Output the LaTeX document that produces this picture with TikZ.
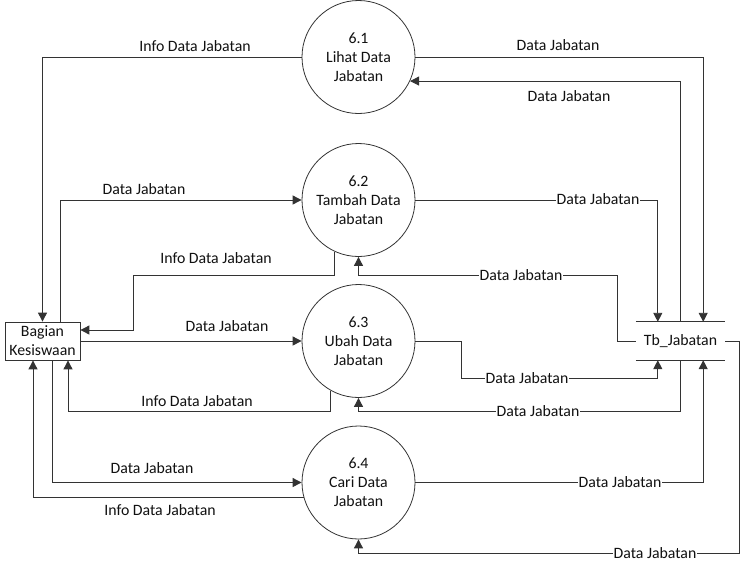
\documentclass[tikz,border=0pt]{standalone}
\usepackage{fontspec}
\setmainfont{Carlito}
\usetikzlibrary{arrows.meta}
\definecolor{ln}{HTML}{333333}
\definecolor{tx}{HTML}{111111}
\begin{document}
\begin{tikzpicture}[x=1pt,y=-1pt,
  every node/.style={font=\fontsize{15.8}{19}\selectfont, text=tx},
  proc/.style={draw=ln, line width=0.8pt, circle, minimum size=113pt, inner sep=0pt, align=center},
  ent/.style={draw=ln, line width=0.8pt, minimum width=75pt, minimum height=38pt, inner sep=0pt, align=center},
  store/.style={minimum width=89pt, minimum height=38pt, inner sep=0pt},
  flow/.style={draw=ln, line width=0.9pt, -{Triangle[length=9pt,width=9pt]}},
  lab/.style={inner sep=1pt},
  onl/.style={inner sep=1pt, fill=white}]
\useasboundingbox (0,0) rectangle (741,571);
\fill[white] (0,0) rectangle (741,571);

\node[proc] (c1) at (358.5,57) {6.1\\Lihat Data\\Jabatan};
\node[proc] (c2) at (358.5,200) {6.2\\Tambah Data\\Jabatan};
\node[proc] (c3) at (358.5,341) {6.3\\Ubah Data\\Jabatan};
\node[proc] (c4) at (358.5,482.5) {6.4\\Cari Data\\Jabatan};
\node[ent] (kes) at (42.5,341) {Bagian\\Kesiswaan};
\node[store] (tb) at (680.5,341) {Tb\_Jabatan};
\draw[ln, line width=0.9pt] (tb.north west) -- (tb.north east);
\draw[ln, line width=0.9pt] (tb.south west) -- (tb.south east);

% flows
\draw[flow] (c1.west) -| (kes.north);
\draw[flow] (c1.east) -| ([xshift=-22pt]tb.north east);
\draw[flow] (tb.north) |- (c1.-25);
\draw[flow] ([xshift=17.5pt]kes.north) |- (c2.west);
\draw[flow] (c2.-115) |- (133,275) |- ([yshift=11pt]kes.east);
\draw[flow] (c2.east) -| ([xshift=22pt]tb.north west);
\draw[flow] (tb.west) -- ++(-18,0) -- ++(0,-66) -| (c2.south);
\draw[flow] (kes.east) -- (c3.west);
\draw[flow] (c3.-119) -- ++(0,21) -| ([xshift=25.5pt]kes.south);
\draw[flow] (c3.east) -- ++(46,0) -- ++(0,37) -| ([xshift=22pt]tb.south west);
\draw[flow] (tb.south) -- ++(0,51) -| (c3.south);
\draw[flow] ([xshift=9.5pt]kes.south) |- (c4.west);
\draw[flow] (c4.-165) -| ([xshift=-9.5pt]kes.south);
\draw[flow] (c4.east) -| ([xshift=-22pt]tb.south east);
\draw[flow] (tb.east) -- ++(14,0) -- ++(0,212) -| (c4.south);

% labels
\node[lab] (l1) at (195,46) {Info Data Jabatan};
\node[lab] (l2) at (558,45) {Data Jabatan};
\node[lab] (l3) at (569,96) {Data Jabatan};
\node[lab] (l4) at (144,189) {Data Jabatan};
\node[lab] (l5) at (216,258) {Info Data Jabatan};
\node[onl] (l6) at (598,199) {Data Jabatan};
\node[onl] (l7) at (521,275) {Data Jabatan};
\node[lab] (l8) at (227,326) {Data Jabatan};
\node[lab] (l9) at (197,401) {Info Data Jabatan};
\node[onl] (l10) at (527,378) {Data Jabatan};
\node[onl] (l11) at (538,411) {Data Jabatan};
\node[lab] (l12) at (152,468) {Data Jabatan};
\node[lab] (l13) at (160,510) {Info Data Jabatan};
\node[onl] (l14) at (620,482) {Data Jabatan};
\node[onl] (l15) at (655,553) {Data Jabatan};
\end{tikzpicture}
\end{document}
